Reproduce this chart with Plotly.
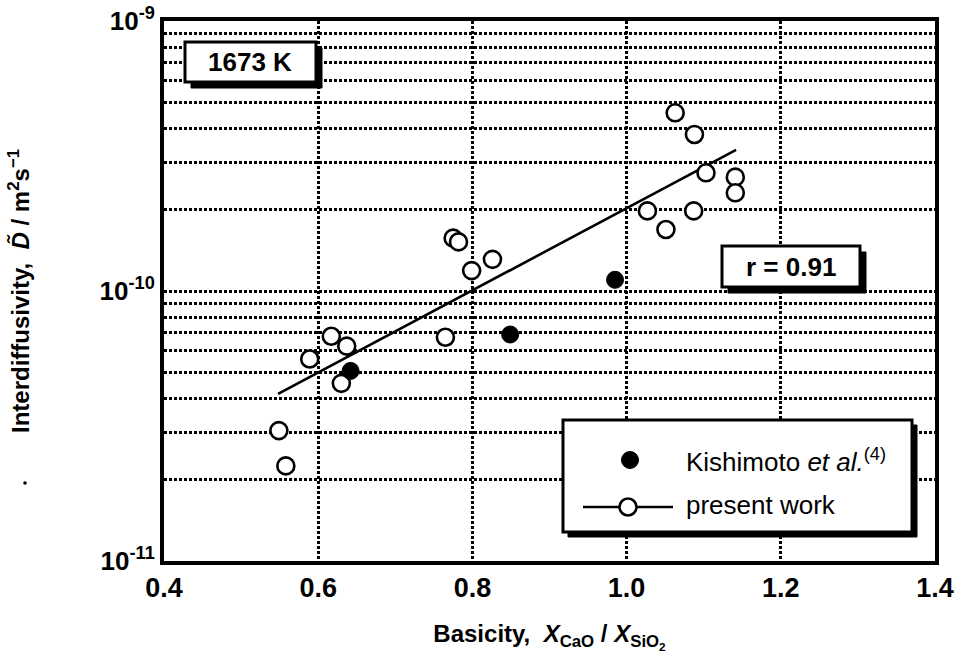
import plotly.graph_objects as go

# ---------------- data ----------------
present_x = [0.549, 0.558, 0.589, 0.617, 0.630, 0.637, 0.765, 0.775, 0.782, 0.799,
             0.826, 1.027, 1.051, 1.063, 1.087, 1.088, 1.103, 1.141, 1.141]
present_d = [3.04e-11, 2.25e-11, 5.6e-11, 6.8e-11, 4.55e-11, 6.25e-11, 6.74e-11, 1.57e-10,
             1.52e-10, 1.19e-10, 1.31e-10, 1.98e-10, 1.69e-10, 4.57e-10, 1.98e-10, 3.8e-10,
             2.74e-10, 2.64e-10, 2.31e-10]
kishi_x = [0.642, 0.849, 0.985]
kishi_d = [5.06e-11, 6.9e-11, 1.10e-10]
fit_x = [0.548, 1.142]
fit_d = [4.16e-11, 3.33e-10]

x_ticks = [0.4, 0.6, 0.8, 1.0, 1.2, 1.4]
x_ticktext = ["0.4", "0.6", "0.8", "1.0", "1.2", "1.4"]
y_decades = [-11, -10, -9]

FONT = "Liberation Sans, Arial, Helvetica, sans-serif"

# y tick values: every 1..9 x 10^n so grid lines appear at all minor positions
y_tickvals, y_ticktext = [], []
for e in y_decades[:-1]:
    for m in range(1, 10):
        y_tickvals.append(m * 10.0 ** e)
        y_ticktext.append(f"<b>10<sup>{e}</sup></b>" if m == 1 else "")
y_tickvals.append(10.0 ** y_decades[-1])
y_ticktext.append(f"<b>10<sup>{y_decades[-1]}</sup></b>")

fig = go.Figure()

fig.add_trace(go.Scatter(x=fit_x, y=fit_d, mode="lines",
                         line=dict(color="black", width=2.6), showlegend=False))
fig.add_trace(go.Scatter(x=present_x, y=present_d, mode="markers",
                         marker=dict(symbol="circle", size=17, color="white",
                                     line=dict(color="black", width=2.6)),
                         showlegend=False))
fig.add_trace(go.Scatter(x=kishi_x, y=kishi_d, mode="markers",
                         marker=dict(symbol="circle", size=17, color="black",
                                     line=dict(color="black", width=1)),
                         showlegend=False))

grid = dict(showgrid=True, gridcolor="black", gridwidth=3, griddash="3px,2px",
            showline=True, linecolor="black", linewidth=4, mirror=True,
            zeroline=False, ticks="", automargin=False)

fig.update_xaxes(range=[0.4, 1.4], tickvals=x_ticks, ticktext=[f"<b>{t}</b>" for t in x_ticktext],
                 tickfont=dict(family=FONT, size=27, color="black"),
                 title=dict(text="<b>Basicity,\u00a0\u00a0<i>X</i><sub>CaO</sub> / <i>X</i><sub>SiO<sub>2</sub></sub></b>",
                            font=dict(family=FONT, size=24, color="black"), standoff=24),
                 **grid)
fig.update_yaxes(type="log", range=[-11, -9], tickvals=y_tickvals, ticktext=y_ticktext,
                 tickfont=dict(family=FONT, size=26, color="black"),
                 title=dict(text="<b>Interdiffusivity,\u00a0\u00a0<i>D\u0303</i> / m<sup>2</sup>s<sup>\u22121</sup></b>",
                            font=dict(family=FONT, size=24, color="black"), standoff=64),
                 **grid)


def px_x(x):
    return (x - 164) / 771.0


def px_y(y):
    return (561 - y) / 540.0


shapes = []
annotations = []


def shadow_box(x0, y0, x1, y1, off=6):
    shapes.append(dict(type="rect", xref="paper", yref="paper", layer="above",
                       x0=px_x(x0 + off), x1=px_x(x1 + off), y0=px_y(y0 + off), y1=px_y(y1 + off),
                       fillcolor="black", line=dict(color="black", width=1)))
    shapes.append(dict(type="rect", xref="paper", yref="paper", layer="above",
                       x0=px_x(x0), x1=px_x(x1), y0=px_y(y0), y1=px_y(y1),
                       fillcolor="white", line=dict(color="black", width=3)))


def label(x, y, text, anchor="center"):
    annotations.append(dict(x=px_x(x), y=px_y(y), xref="paper", yref="paper", showarrow=False,
                            xanchor=anchor, yanchor="middle", text=text,
                            font=dict(family=FONT, size=26, color="black")))


# temperature box
shadow_box(185, 42, 316, 82)
label(250, 62, "<b>1673 K</b>")
# correlation box
shadow_box(722, 246, 860, 287)
label(791, 266.5, "<b>r = 0.91</b>")
# legend box
shadow_box(563, 420, 912, 532, off=5)
shapes.append(dict(type="circle", xref="paper", yref="paper", layer="above",
                   xsizemode="pixel", ysizemode="pixel", xanchor=px_x(630), yanchor=px_y(460),
                   x0=-8.5, x1=8.5, y0=-8.5, y1=8.5, fillcolor="black", line=dict(color="black", width=1)))
shapes.append(dict(type="line", xref="paper", yref="paper", layer="above",
                   x0=px_x(583), x1=px_x(673), y0=px_y(507), y1=px_y(507),
                   line=dict(color="black", width=2.6)))
shapes.append(dict(type="circle", xref="paper", yref="paper", layer="above",
                   xsizemode="pixel", ysizemode="pixel", xanchor=px_x(628), yanchor=px_y(507),
                   x0=-8.5, x1=8.5, y0=-8.5, y1=8.5, fillcolor="white", line=dict(color="black", width=2.6)))
label(684, 460, "Kishimoto <i>et al.</i><sup>(4)</sup>", anchor="left")
label(684, 505, "present work", anchor="left")

# small stray dot beside the y title (present in the scanned original)
shapes.append(dict(type="circle", xref="paper", yref="paper", layer="above",
                   xsizemode="pixel", ysizemode="pixel", xanchor=px_x(25), yanchor=px_y(483),
                   x0=-1.8, x1=1.8, y0=-1.8, y1=1.8, fillcolor="black", line=dict(width=0)))

fig.update_layout(width=955, height=657, margin=dict(l=164, r=20, t=21, b=96),
                  plot_bgcolor="white", paper_bgcolor="white", showlegend=False,
                  shapes=shapes, annotations=annotations)

fig.write_html("out.html")
